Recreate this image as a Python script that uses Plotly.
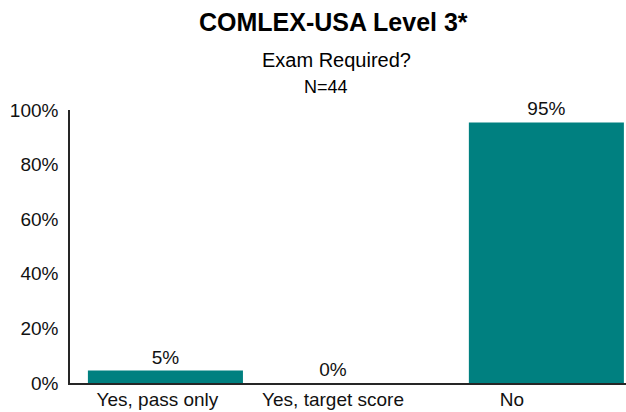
import plotly.graph_objects as go

categories = ["Yes, pass only", "Yes, target score", "No"]
values = [4.55, 0.0, 95.45]
y_ticks = [0, 20, 40, 60, 80, 100]
y_tick_labels = ["0%", "20%", "40%", "60%", "80%", "100%"]
title_text = "COMLEX-USA Level 3*"
subtitle_text = "Exam Required?"
n_text = "N=44"

FONT = "Liberation Sans, Arial, sans-serif"
TEAL = "#008080"

W, H = 626, 412
ML, MR, MT, MB = 70, 0, 110, 29
PW = W - ML - MR
PH = H - MT - MB

x_pos = list(range(len(categories)))
tick_pos = [-0.042, 0.88, 1.819]
bar_width = 0.814
offsets = [-0.407, -0.527, -0.407]

fig = go.Figure()
fig.add_trace(go.Bar(
    x=x_pos, y=values,
    width=bar_width, offset=offsets,
    marker=dict(color=TEAL, line=dict(width=0)),
    texttemplate="%{y:.0f}%", textposition="outside",
    textfont=dict(family=FONT, size=19, color="#111111"),
    cliponaxis=False, hoverinfo="skip",
))

def px_x(px):
    return (px - ML) / PW

def px_y(py):
    return 1 + (MT - py) / PH

fig.update_layout(
    width=W, height=H,
    margin=dict(l=ML, r=MR, t=MT, b=MB, pad=0),
    paper_bgcolor="white", plot_bgcolor="white",
    showlegend=False,
    font=dict(family=FONT, color="#111111"),
    xaxis=dict(range=[-0.501, 2.418], tickvals=tick_pos, ticktext=categories,
               showgrid=False, zeroline=False, showline=True,
               linecolor="#262626", linewidth=1.5, ticks="",
               ticklabelstandoff=-2, automargin=False,
               tickfont=dict(family=FONT, size=19, color="#111111"),
               fixedrange=True),
    yaxis=dict(range=[0, 100], tickvals=y_ticks, ticktext=y_tick_labels,
               showgrid=False, zeroline=False, showline=True,
               linecolor="#262626", linewidth=1.5, ticks="",
               ticklabelstandoff=6, automargin=False,
               tickfont=dict(family=FONT, size=19, color="#111111"),
               fixedrange=True),
    annotations=[
        dict(text="<b>" + title_text + "</b>", xref="paper", yref="paper",
             x=px_x(333), y=px_y(22), xanchor="center", yanchor="middle",
             showarrow=False, font=dict(family=FONT, size=25, color="#000000")),
        dict(text=subtitle_text, xref="paper", yref="paper",
             x=px_x(336), y=px_y(60), xanchor="center", yanchor="middle",
             showarrow=False, font=dict(family=FONT, size=20, color="#000000")),
        dict(text=n_text, xref="paper", yref="paper",
             x=px_x(326), y=px_y(87), xanchor="center", yanchor="middle",
             showarrow=False, font=dict(family=FONT, size=18, color="#000000")),
    ],
)

fig.write_html("out.html", config={"displayModeBar": False},
               post_script="document.body.style.margin='0';document.body.style.overflow='hidden';")
